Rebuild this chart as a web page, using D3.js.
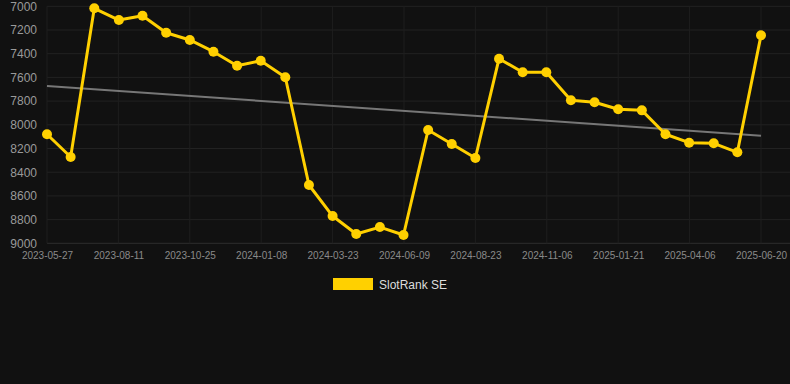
<!DOCTYPE html>
<html><head><meta charset="utf-8">
<script src="https://cdn.jsdelivr.net/npm/d3@7"></script>
<style>
html,body{margin:0;padding:0;background:#111111;}
svg{display:block;font-family:"Liberation Sans",Arial,sans-serif;}
</style></head>
<body><svg id="c" width="790" height="384"></svg>
<script>
const dates = ["2023-05-27","2023-06-21","2023-07-16","2023-08-11","2023-09-05","2023-09-30","2023-10-25","2023-11-19","2023-12-14","2024-01-08","2024-02-03","2024-02-28","2024-03-24","2024-04-18","2024-05-13","2024-06-07","2024-07-03","2024-07-28","2024-08-22","2024-09-16","2024-10-11","2024-11-05","2024-12-01","2024-12-26","2025-01-20","2025-02-14","2025-03-11","2025-04-05","2025-05-01","2025-05-26","2025-06-20"];
const rankValues = [8080,8272,7017,7116,7079,7223,7284,7383,7501,7459,7599,8508,8770,8922,8863,8930,8044,8162,8280,7442,7557,7557,7793,7810,7869,7878,8080,8151,8156,8232,7245];
const trendDates = ["2023-05-27","2025-06-20"];
const trendValues = [7673,8092];
const xTickLabels = ["2023-05-27","2023-08-11","2023-10-25","2024-01-08","2024-03-23","2024-06-09","2024-08-23","2024-11-06","2025-01-21","2025-04-06","2025-06-20"];
const yTicks = [7000,7200,7400,7600,7800,8000,8200,8400,8600,8800,9000];
const seriesName = "SlotRank SE";

const parse = d3.utcParse("%Y-%m-%d");
const svg = d3.select("#c");
const mLeft = 47, mRight = 761, mTop = 6.3, mBottom = 243.3, gridRight = 790;

const x = d3.scaleUtc().domain([parse(dates[0]), parse(dates[dates.length-1])]).range([mLeft, mRight]);
const xi = d3.scaleLinear().domain([0, xTickLabels.length-1]).range([mLeft, mRight]);
const y = d3.scaleLinear().domain([7000, 9000]).range([mTop, mBottom]);

// horizontal grid
svg.append("g").selectAll("line").data(yTicks).join("line")
  .attr("x1", mLeft).attr("x2", gridRight)
  .attr("y1", d => y(d)).attr("y2", d => y(d))
  .attr("stroke", d => d === 9000 ? "#2e2e2e" : "#222222").attr("stroke-width", 1);
// vertical grid
svg.append("g").selectAll("line").data(xTickLabels).join("line")
  .attr("x1", (d,i) => xi(i)).attr("x2", (d,i) => xi(i))
  .attr("y1", mTop).attr("y2", mBottom)
  .attr("stroke", "#1e1e1e").attr("stroke-width", 1);

// y axis labels
const yAxis = d3.axisLeft(y).tickValues(yTicks).tickSize(0).tickPadding(0).tickFormat(d3.format("d"));
const gy = svg.append("g").attr("transform", `translate(${37},0)`).call(yAxis);
gy.select(".domain").remove();
gy.selectAll("text").attr("fill", "#9a9a9a").attr("font-size", "12px");

// x axis labels
const xAxis = d3.axisBottom(xi).tickValues(d3.range(xTickLabels.length)).tickSize(0).tickPadding(0).tickFormat(i => xTickLabels[i]);
const gx = svg.append("g").attr("transform", `translate(0,${252})`).call(xAxis);
gx.select(".domain").remove();
gx.selectAll("text").attr("fill", "#8a8a8a").attr("font-size", "10px");

// trend line
svg.append("line")
  .attr("x1", x(parse(trendDates[0]))).attr("y1", y(trendValues[0]))
  .attr("x2", x(parse(trendDates[1]))).attr("y2", y(trendValues[1]))
  .attr("stroke", "#777777").attr("stroke-width", 2);

// series line
const data = dates.map((d,i) => ({date: parse(d), v: rankValues[i]}));
svg.append("path").datum(data)
  .attr("d", d3.line().x(d => x(d.date)).y(d => y(d.v)))
  .attr("fill", "none").attr("stroke", "#FFD000").attr("stroke-width", 3)
  .attr("stroke-linejoin", "round");
svg.append("g").selectAll("circle").data(data).join("circle")
  .attr("cx", d => x(d.date)).attr("cy", d => y(d.v)).attr("r", 5)
  .attr("fill", "#FFD000");

// legend
const lg = svg.append("g");
lg.append("rect").attr("x", 333).attr("y", 278).attr("width", 40).attr("height", 12).attr("fill", "#FFD000");
lg.append("text").attr("x", 379).attr("y", 289).attr("fill", "#dddddd").attr("font-size", "12px").text(seriesName);
</script></body></html>
